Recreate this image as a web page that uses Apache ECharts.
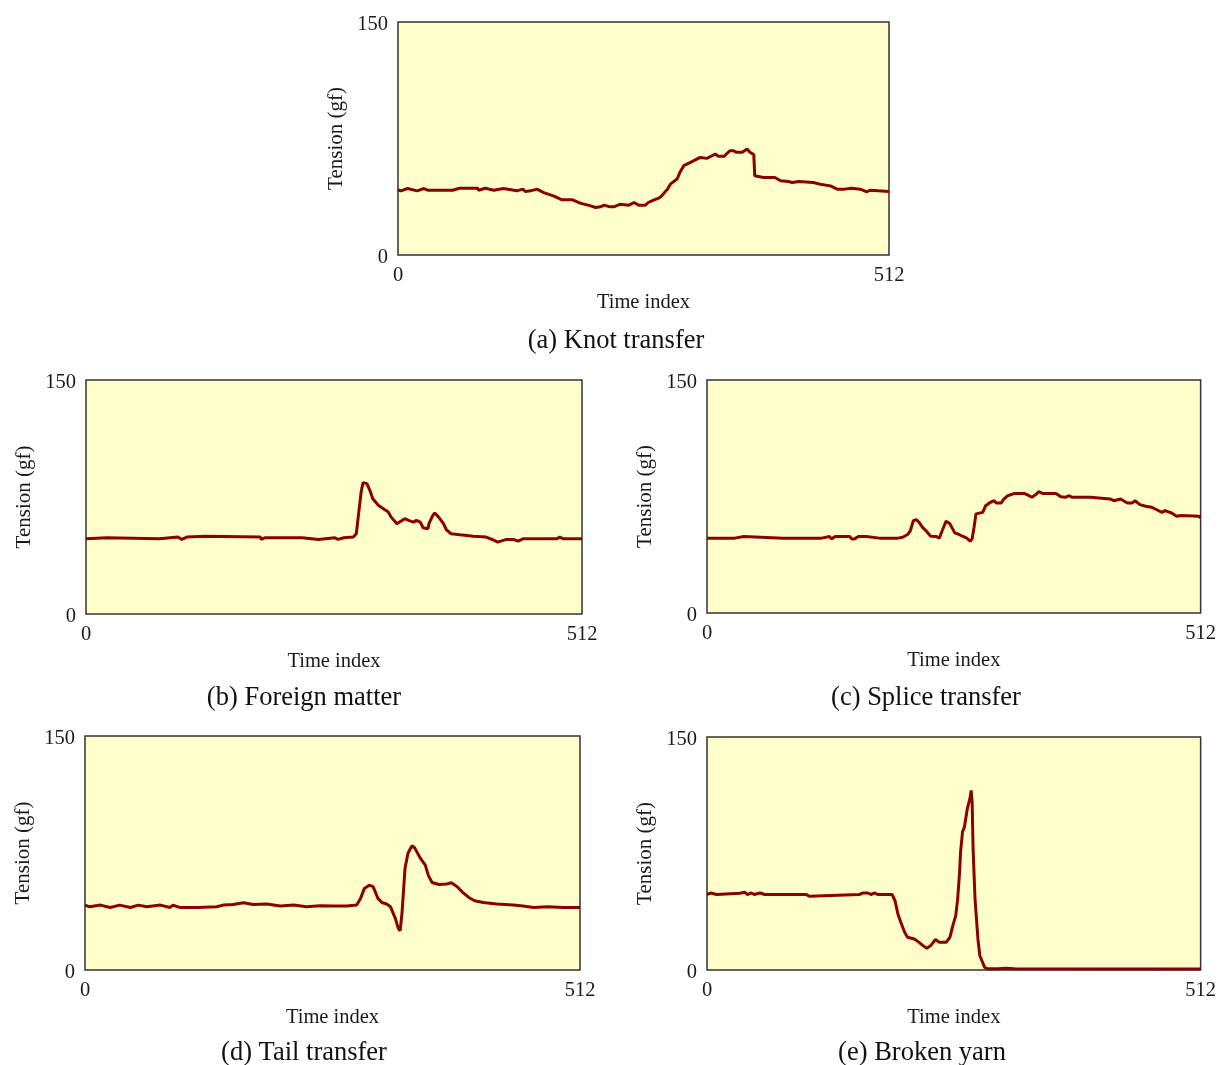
<!DOCTYPE html>
<html>
<head>
<meta charset="utf-8">
<script src="https://cdn.jsdelivr.net/npm/echarts@6/dist/echarts.min.js"></script>
<style>
html,body{margin:0;padding:0;background:#fff;}
#chart{width:1219px;height:1065px;}
</style>
</head>
<body>
<div id="chart"></div>
<script>
// Axis ticks
var xTicks = [0, 512];
var yTicks = [0, 150];
var captions = ['(a) Knot transfer', '(b) Foreign matter', '(c) Splice transfer', '(d) Tail transfer', '(e) Broken yarn'];

// (a) Knot transfer
var idxA = [0,3,10,20,27,31,57,64,83,84,91,100,110,124,130,133,138,145,152,162,171,182,190,201,206,211,215,221,225,232,241,246,251,258,261,267,272,275,281,284,291,294,298,305,315,322,331,334,340,346,350,353,359,364,367,371,372,381,393,399,407,411,418,433,440,451,458,466,473,482,489,492,501,512];
var tenA = [42.0,41.3,42.8,41.3,42.8,41.7,41.7,43.0,43.0,41.7,43.0,41.7,42.8,41.3,42.4,40.9,41.3,42.4,40.2,38.1,35.5,35.5,33.4,31.6,30.6,31.0,32.1,31.0,31.0,32.7,32.1,33.8,32.1,32.1,33.8,35.5,36.6,38.1,42.4,45.6,48.9,53.2,57.5,59.6,62.8,62.2,65.0,63.5,63.5,67.1,67.1,66.1,66.1,68.2,66.1,64.6,51.0,49.9,49.9,47.8,47.3,46.7,47.3,46.7,45.6,44.5,42.4,42.4,43.0,42.4,40.7,41.7,41.3,40.9];

// (b) Foreign matter
var idxB = [0,11,21,23,76,95,99,104,123,125,180,181,185,223,224,240,241,257,260,266,276,279,281,284,286,290,293,296,302,307,312,315,321,329,333,338,341,345,348,353,354,358,360,364,369,372,377,386,400,413,420,425,434,441,446,451,486,489,493,512];
var tenB = [48.2,48.6,48.9,47.8,48.2,49.3,47.8,49.3,49.9,49.3,49.3,47.8,48.9,48.9,47.8,47.8,48.9,48.9,47.8,48.9,49.3,51.4,62.1,78.2,84.2,83.6,79.3,73.9,69.6,67.5,65.4,62.1,57.9,61.1,60.0,58.9,60.0,58.9,55.3,54.6,57.9,63.2,64.7,62.1,57.9,54.0,51.4,50.8,49.9,49.3,47.6,46.1,47.8,47.8,46.7,48.2,48.2,49.3,48.2,48.2];

// (c) Splice transfer
var idxC = [0,19,21,24,29,31,38,40,79,81,83,119,121,127,129,133,148,150,153,157,165,167,179,181,183,198,200,203,208,211,214,217,220,224,227,232,238,241,244,248,252,257,260,265,269,273,275,277,279,281,286,289,294,298,300,305,308,312,319,329,334,337,341,344,348,362,367,372,375,379,398,399,418,422,429,436,441,444,449,455,461,467,472,475,482,487,492,510,512];
var tenC = [48.2,48.2,49.2,48.2,48.2,49.2,49.2,48.2,48.2,49.2,48.2,48.2,49.2,49.2,47.7,49.2,49.2,47.7,47.7,49.2,49.2,48.2,48.2,49.2,48.2,48.2,49.2,48.8,50.5,53.1,59.5,60.1,58.4,54.8,53.1,49.4,49.2,48.2,53.1,59.1,57.4,51.6,50.9,49.4,48.4,46.2,47.7,55.2,63.8,64.8,64.8,69.1,71.3,72.3,70.8,70.8,73.4,75.5,77.0,77.0,75.5,74.5,76.2,78.1,77.0,77.0,74.9,74.5,75.5,74.5,74.5,73.4,73.4,72.3,73.4,70.8,70.8,72.3,69.8,68.7,68.1,66.3,64.8,65.9,64.4,62.3,62.7,62.3,61.2];

// (d) Tail transfer
var idxD = [0,5,16,26,36,47,55,64,78,88,91,98,116,136,143,153,164,174,188,202,216,229,243,257,271,281,285,289,294,298,303,307,312,316,321,324,326,328,331,334,338,341,347,352,355,359,366,374,379,385,390,397,403,412,426,443,453,464,478,495,512];
var tenD = [41.6,40.5,41.6,40.1,41.6,40.1,41.6,40.5,41.6,40.1,41.6,40.1,40.1,40.5,41.6,42.0,43.1,42.0,42.3,41.0,41.6,40.5,41.2,41.0,41.0,41.6,45.9,52.3,54.4,53.4,45.9,43.3,42.3,40.5,33.1,26.7,25.2,37.3,65.1,74.7,79.6,78.3,71.5,67.2,60.8,56.1,54.8,55.1,55.9,53.4,50.1,46.5,44.4,43.3,42.3,41.6,41.0,40.1,40.5,40.1,40.1];

// (e) Broken yarn
var idxE = [0,4,10,34,39,42,46,49,55,60,80,82,84,103,106,108,158,162,167,170,174,177,192,195,198,201,205,208,215,220,224,228,232,237,241,248,252,255,258,260,262,263,265,267,270,273,274,275,276,278,281,283,288,291,301,310,319,512];
var tenE = [48.6,49.6,48.6,49.4,50.1,48.6,49.6,48.6,49.6,48.6,48.6,47.5,48.6,48.6,47.5,48.6,48.6,49.6,49.6,48.6,49.6,48.6,48.6,44.7,36.1,30.7,24.3,21.1,20.0,17.8,15.7,14.0,15.7,19.6,17.8,17.8,21.1,28.6,35.0,45.8,63.0,75.9,88.8,92.0,103.8,111.3,115.6,108.1,78.0,45.8,20.0,9.2,1.7,0.8,0.8,1.2,0.8,0.6];

var idxSets = [idxA, idxB, idxC, idxD, idxE];
var tenSets = [tenA, tenB, tenC, tenD, tenE];

var grids = [
  {left: 398, top: 22, width: 491, height: 233},
  {left: 86, top: 380, width: 496, height: 234},
  {left: 707, top: 380, width: 495, height: 233},
  {left: 85, top: 736, width: 495, height: 234},
  {left: 707, top: 737, width: 495, height: 233}
];
var captionPos = [[611, 323], [299, 680], [921, 680], [299, 1035], [917, 1035]];

var FONT = '"Liberation Serif", "Times New Roman", serif';
var option = {
  backgroundColor: '#ffffff',
  animation: false,
  title: [],
  grid: [],
  xAxis: [],
  yAxis: [],
  series: []
};
for (var i = 0; i < 5; i++) {
  option.grid.push(Object.assign({
    show: true,
    backgroundColor: '#FFFFCC',
    borderColor: '#333333',
    borderWidth: 1.5,
    containLabel: false
  }, grids[i]));
  option.xAxis.push({
    type: 'value', gridIndex: i, min: xTicks[0], max: xTicks[1], interval: xTicks[1] - xTicks[0],
    name: 'Time index', nameLocation: 'middle', nameGap: 37,
    nameTextStyle: {fontFamily: FONT, fontSize: 20.5, color: '#1a1a1a'},
    axisLine: {show: false}, axisTick: {show: false}, splitLine: {show: false},
    axisLabel: {fontFamily: FONT, fontSize: 20.5, color: '#1a1a1a', margin: 10}
  });
  option.yAxis.push({
    type: 'value', gridIndex: i, min: yTicks[0], max: yTicks[1], interval: yTicks[1] - yTicks[0],
    name: 'Tension (gf)', nameLocation: 'middle', nameGap: 51, nameRotate: 90,
    nameTextStyle: {fontFamily: FONT, fontSize: 21, color: '#1a1a1a'},
    axisLine: {show: false}, axisTick: {show: false}, splitLine: {show: false},
    axisLabel: {
      margin: 10,
      formatter: '{t|{value}}',
      rich: {t: {fontFamily: FONT, fontSize: 20.5, color: '#1a1a1a', padding: [6, 0, 0, 0]}}
    }
  });
  var pts = [];
  for (var k = 0; k < idxSets[i].length; k++) pts.push([idxSets[i][k], tenSets[i][k]]);
  option.series.push({
    type: 'line', xAxisIndex: i, yAxisIndex: i, data: pts,
    showSymbol: false, symbol: 'none',
    lineStyle: {color: '#8B0000', width: 3},
    clip: true
  });
  option.title.push({
    text: captions[i], left: captionPos[i][0], top: captionPos[i][1], textAlign: 'center',
    textStyle: {fontFamily: FONT, fontSize: 26.5, fontWeight: 'normal', color: '#111'}
  });
}
var chart = echarts.init(document.getElementById('chart'), null, {renderer: 'canvas'});
chart.setOption(option);
</script>
</body>
</html>
